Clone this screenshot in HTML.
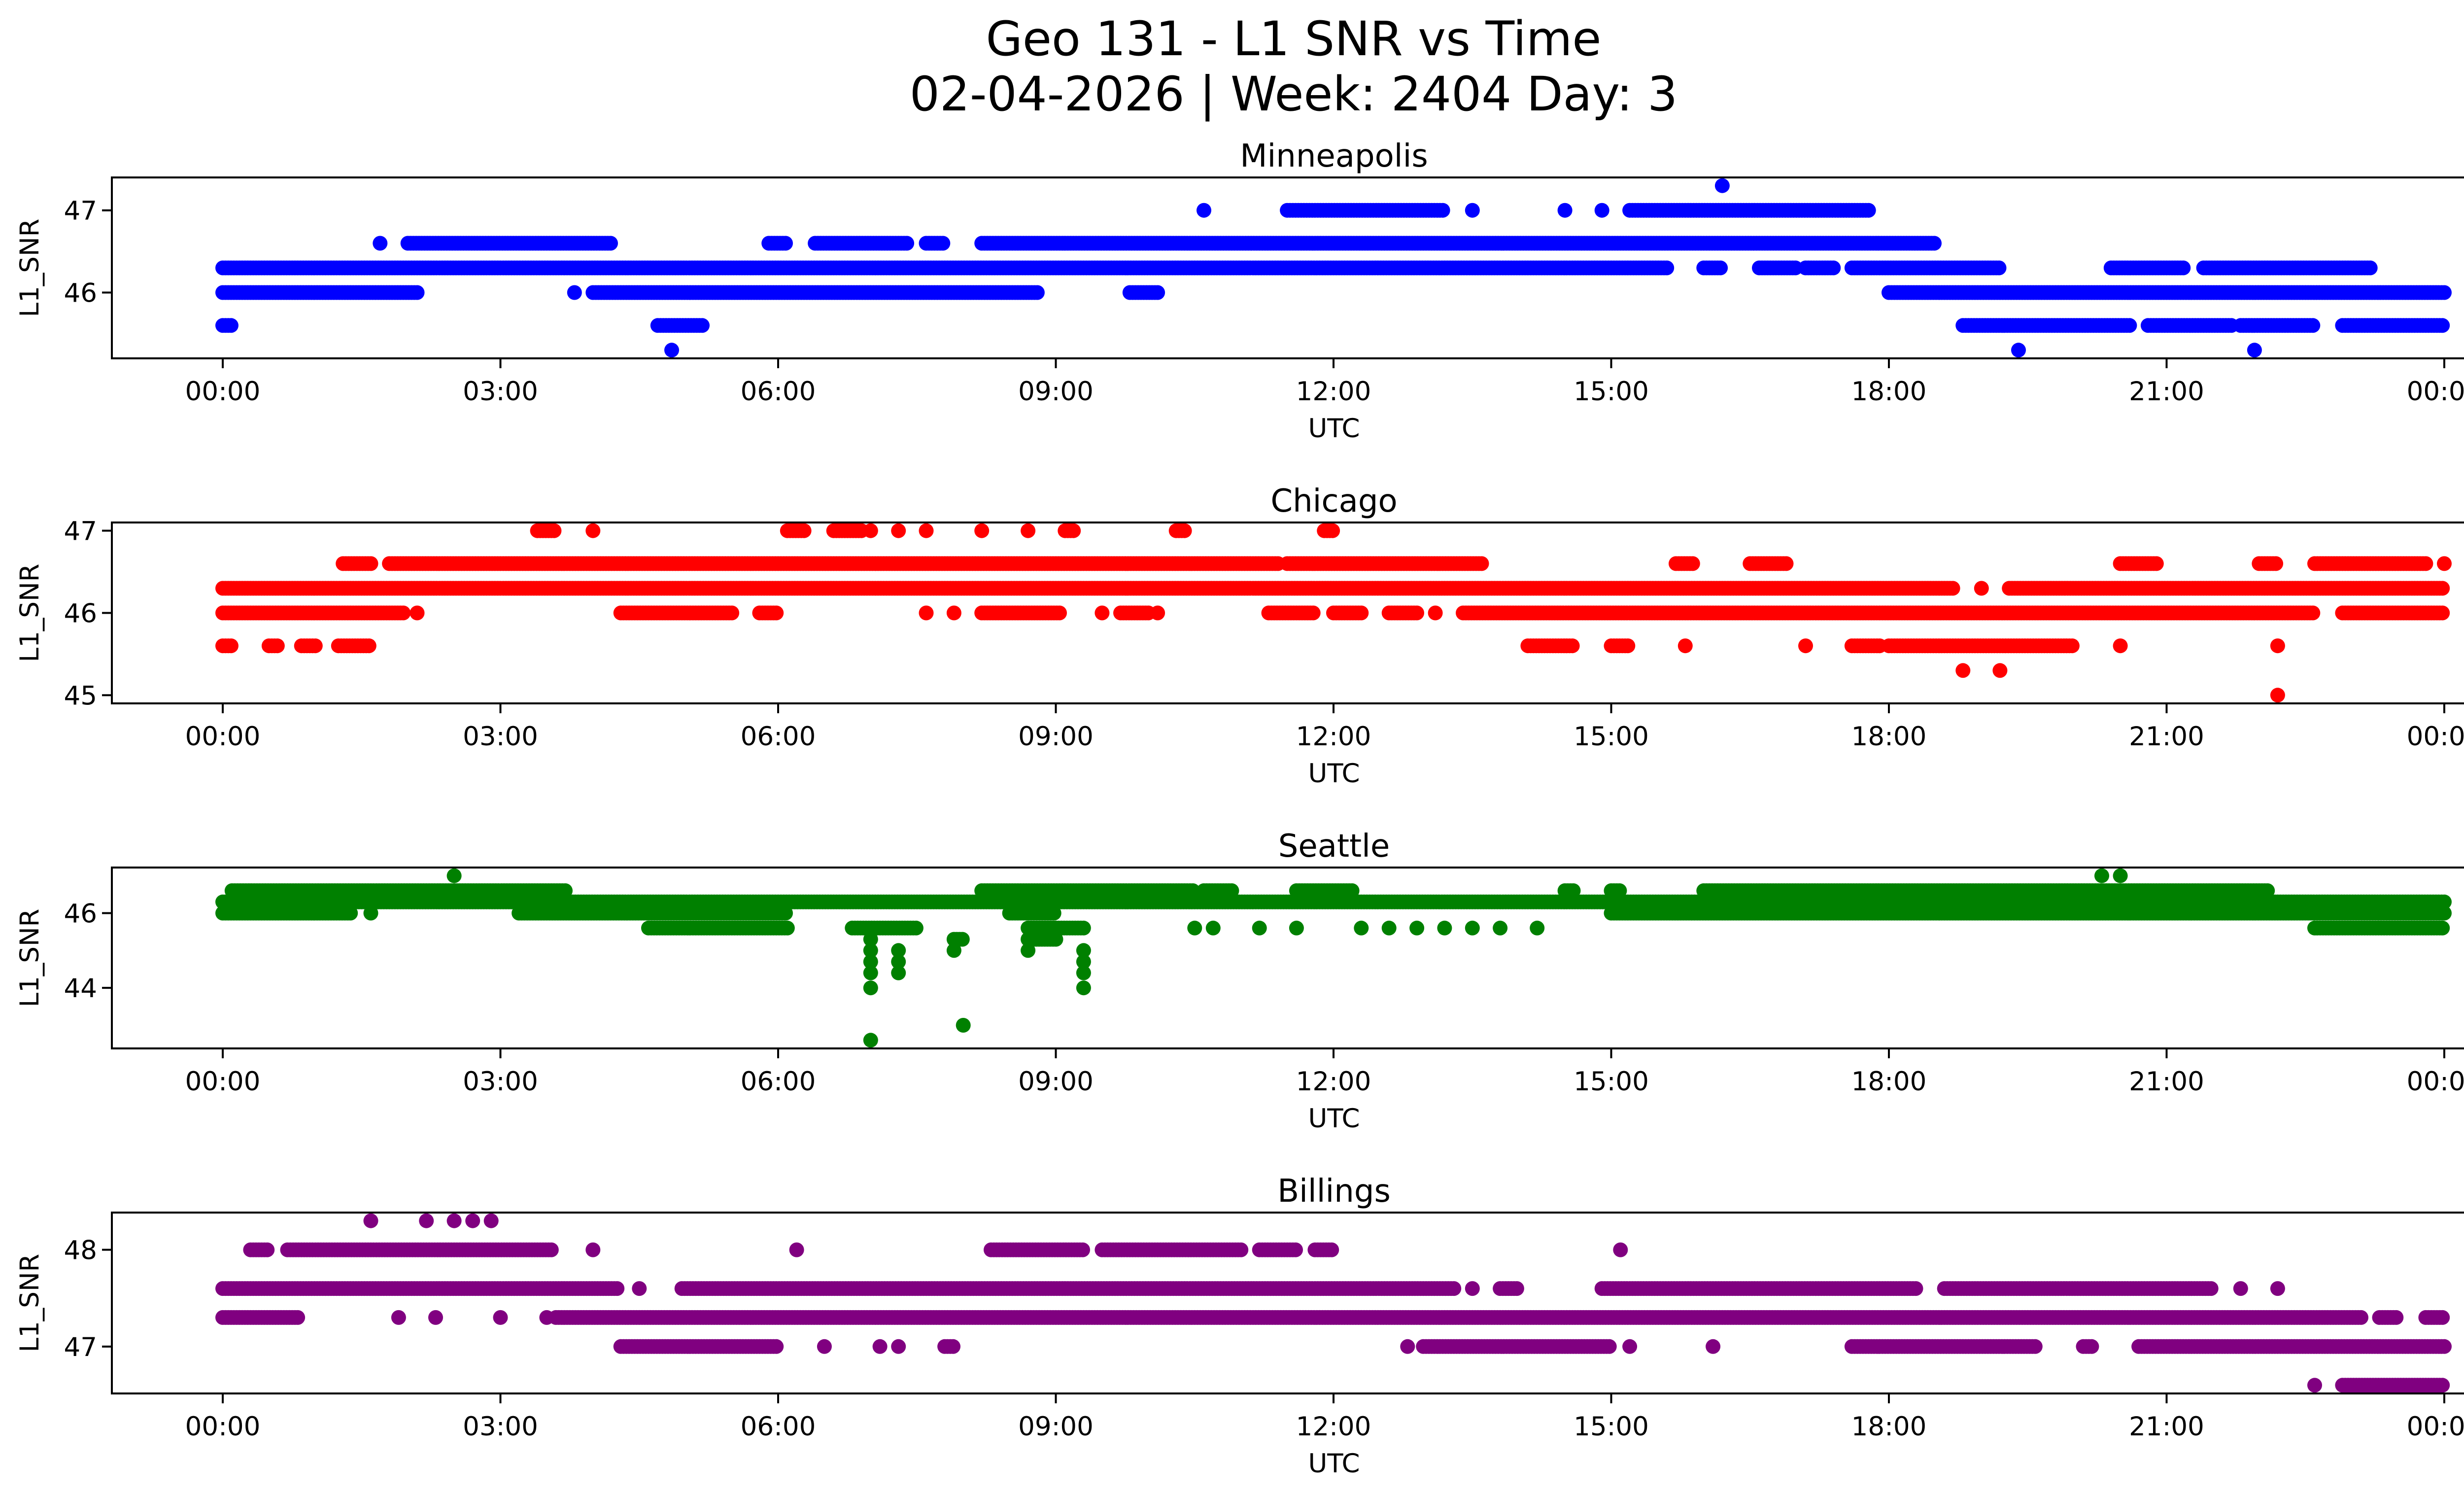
<!DOCTYPE html>
<html><head><meta charset="utf-8">
<style>
html,body{margin:0;padding:0;background:#fff;}
svg{display:block;font-family:"DejaVu Sans","Liberation Sans",sans-serif;}
</style></head>
<body>
<svg id="fig" width="5225" height="3033" viewBox="0 0 5225 3033" xmlns="http://www.w3.org/2000/svg">
<rect width="5225" height="3033" fill="#fff"/>
<text x="2625" y="112" font-size="96" text-anchor="middle">Geo 131 - L1 SNR vs Time</text>
<text x="2625" y="224" font-size="96" text-anchor="middle">02-04-2026 | Week: 2404 Day: 3</text>
</svg>
<script>
// ---- data: runs [startHour, endHour] per SNR level; single points have start=end ----
const stations = ["Minneapolis","Chicago","Seattle","Billings"];
const colors = ["#0000ff","#ff0000","#008000","#800080"];
const yLimits = [[45.2,47.4],[44.9,47.1],[42.38,47.22],[46.515,48.385]];
const yTicks = [[46,47],[45,46,47],[44,46],[47,48]];
const xTickHours = [0,3,6,9,12,15,18,21,24];
const xTickLabels = ["00:00","03:00","06:00","09:00","12:00","15:00","18:00","21:00","00:00"];

const minneapolisRuns = [
 [47.3,[[16.2,16.2]]],
 [47.0,[[10.6,10.6],[11.5,13.2],[13.5,13.5],[14.5,14.5],[14.9,14.9],[15.2,17.8]]],
 [46.6,[[1.7,1.7],[2.0,4.2],[5.9,6.1],[6.4,7.4],[7.6,7.8],[8.2,18.5]]],
 [46.3,[[0,15.6],[16.0,16.2],[16.6,17.0],[17.1,17.4],[17.6,19.2],[20.4,21.2],[21.4,23.2]]],
 [46.0,[[0,2.1],[3.8,3.8],[4.0,8.8],[9.8,10.1],[18.0,24]]],
 [45.6,[[0,0.1],[4.7,5.2],[18.8,20.6],[20.8,21.7],[21.8,22.6],[22.9,24]]],
 [45.3,[[4.85,4.85],[19.4,19.4],[21.95,21.95]]]
];
const chicagoRuns = [
 [47.0,[[3.4,3.6],[4.0,4.0],[6.1,6.3],[6.6,6.9],[7.0,7.0],[7.3,7.3],[7.6,7.6],[8.2,8.2],[8.7,8.7],[9.1,9.2],[10.3,10.4],[11.9,12.0]]],
 [46.6,[[1.3,1.6],[1.8,11.4],[11.5,13.6],[15.7,15.9],[16.5,16.9],[20.5,20.9],[22.0,22.2],[22.6,23.8],[24,24]]],
 [46.3,[[0,18.7],[19.0,19.0],[19.3,24]]],
 [46.0,[[0,1.95],[2.1,2.1],[4.3,5.5],[5.8,6.0],[7.6,7.6],[7.9,7.9],[8.2,9.05],[9.5,9.5],[9.7,10.0],[10.1,10.1],[11.3,11.8],[12.0,12.3],[12.6,12.9],[13.1,13.1],[13.4,22.6],[22.9,24]]],
 [45.6,[[0,0.1],[0.5,0.6],[0.85,1.0],[1.25,1.6],[14.1,14.6],[15.0,15.2],[15.8,15.8],[17.1,17.1],[17.6,17.9],[18.0,20.0],[20.5,20.5],[22.2,22.2]]],
 [45.3,[[18.8,18.8],[19.2,19.2]]],
 [45.0,[[22.2,22.2]]]
];
const seattleRuns = [
 [47.0,[[2.5,2.5],[20.3,20.3],[20.5,20.5]]],
 [46.6,[[0.1,3.7],[8.2,10.5],[10.6,10.9],[11.6,12.2],[14.5,14.6],[15.0,15.1],[16.0,22.1]]],
 [46.3,[[0,24]]],
 [46.0,[[0,1.4],[1.6,1.6],[3.2,6.1],[8.5,9.0],[15.0,24]]],
 [45.6,[[4.6,6.1],[6.8,7.5],[8.7,9.3],[10.5,10.5],[10.7,10.7],[11.2,11.2],[11.6,11.6],[12.3,12.3],[12.6,12.6],[12.9,12.9],[13.2,13.2],[13.5,13.5],[13.8,13.8],[14.2,14.2],[22.6,24]]],
 [45.3,[[7.0,7.0],[7.9,8.0],[8.7,9.0]]],
 [45.0,[[7.0,7.0],[7.3,7.3],[7.9,7.9],[8.7,8.7],[9.3,9.3]]],
 [44.7,[[7.0,7.0],[7.3,7.3],[9.3,9.3]]],
 [44.4,[[7.0,7.0],[7.3,7.3],[9.3,9.3]]],
 [44.0,[[7.0,7.0],[9.3,9.3]]],
 [43.0,[[8.0,8.0]]],
 [42.6,[[7.0,7.0]]]
];
const billingsRuns = [
 [48.3,[[1.6,1.6],[2.2,2.2],[2.5,2.5],[2.7,2.7],[2.9,2.9]]],
 [48.0,[[0.3,0.5],[0.7,3.55],[4.0,4.0],[6.2,6.2],[8.3,9.3],[9.5,11.0],[11.2,11.6],[11.8,12.0],[15.1,15.1]]],
 [47.6,[[0,4.26],[4.5,4.5],[4.96,13.3],[13.5,13.5],[13.8,14.0],[14.9,18.3],[18.6,21.5],[21.8,21.8],[22.2,22.2]]],
 [47.3,[[0,0.83],[1.9,1.9],[2.3,2.3],[3.0,3.0],[3.5,3.5],[3.6,23.1],[23.3,23.5],[23.8,24]]],
 [47.0,[[4.3,6.0],[6.5,6.5],[7.1,7.1],[7.3,7.3],[7.8,7.9],[12.8,12.8],[12.97,15.0],[15.2,15.2],[16.1,16.1],[17.6,19.6],[20.1,20.2],[20.7,24]]],
 [46.6,[[22.6,22.6],[22.9,24]]]
];
const allRuns = [minneapolisRuns, chicagoRuns, seattleRuns, billingsRuns];

// ---- layout ----
const NS = "http://www.w3.org/2000/svg";
const svg = document.getElementById("fig");
const AX_L = 227, AX_R = 5187, AX_H = 367, TOPS = [360,1060,1760,2460];
const X0 = 452, X24 = 4960;
function xScale(h){ return X0 + (X24 - X0) * h / 24; }
function mk(tag, attrs, parent){ const e = document.createElementNS(NS, tag); for (const k in attrs) e.setAttribute(k, attrs[k]); (parent||svg).appendChild(e); return e; }

stations.forEach((name, i) => {
  const top = TOPS[i], bot = top + AX_H;
  const [y0, y1] = yLimits[i];
  const yScale = v => bot - (v - y0) / (y1 - y0) * AX_H;
  const g = mk("g", {});
  
  

  const clipId = "clip" + i;
  const cp = mk("clipPath", {id: clipId}, g);
  mk("rect", {x: AX_L, y: top, width: AX_R - AX_L, height: AX_H}, cp);
  const pts = mk("g", {"clip-path": "url(#" + clipId + ")", fill: colors[i]}, g);
  
  
  allRuns[i].forEach(([level, runs]) => {
    runs.forEach(([a, b]) => {
      for (let h = a; h <= b + 1e-9; h += 0.03) {
        const c = mk("circle", {cx: xScale(h).toFixed(1), cy: yScale(level).toFixed(1), r: 15}, pts);
        
        
        if (b - a < 0.03) break;
      }
    });
  });

  const frame = mk("rect", {x: AX_L, y: top, width: AX_R - AX_L, height: AX_H, fill: "none", stroke: "#000", "stroke-width": 4}, g);
  
  

  xTickHours.forEach((h, k) => {
    const x = xScale(h);
    mk("line", {x1: x, x2: x, y1: bot, y2: bot + 20, stroke: "#000", "stroke-width": 4}, g);
    const t = mk("text", {x: x, y: bot + 85, "font-size": 53, "text-anchor": "middle"}, g);
    t.textContent = xTickLabels[k];
    
    
  });
  yTicks[i].forEach(v => {
    const y = yScale(v);
    mk("line", {x1: AX_L - 20, x2: AX_L, y1: y, y2: y, stroke: "#000", "stroke-width": 4}, g);
    const t = mk("text", {x: AX_L - 30, y: y + 19, "font-size": 53, "text-anchor": "end"}, g);
    t.textContent = v;
    
    
  });
  const ttl = mk("text", {x: (AX_L + AX_R) / 2, y: top - 22, "font-size": 64, "text-anchor": "middle"}, g);
  ttl.textContent = name;
  
  
  const xl = mk("text", {x: (AX_L + AX_R) / 2, y: bot + 160, "font-size": 53, "text-anchor": "middle"}, g);
  xl.textContent = "UTC";
  
  
  const yc = top + AX_H / 2;
  const yl = mk("text", {x: 78, y: yc, "font-size": 53, "text-anchor": "middle", transform: "rotate(-90 78 " + yc + ")"}, g);
  yl.textContent = "L1_SNR";
  
  
});
</script>
</body></html>
